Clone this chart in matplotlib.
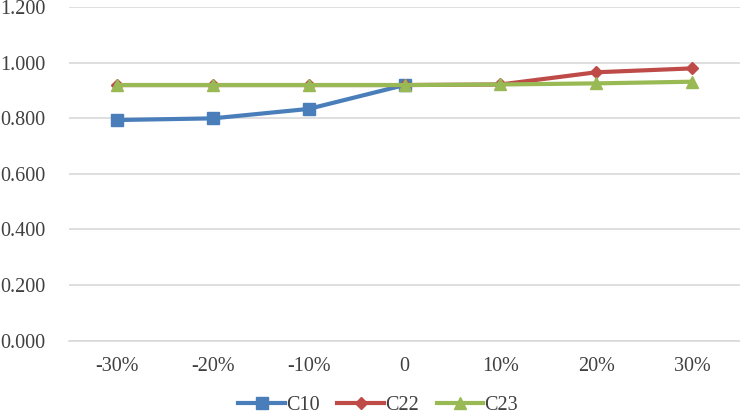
import numpy as np
import matplotlib.pyplot as plt
from matplotlib.ticker import FormatStrFormatter

# dados
categorias = ['-30%', '-20%', '-10%', '0', '10%', '20%', '30%']
c10 = [0.794, 0.800, 0.834, 0.920, np.nan, np.nan, np.nan]
c22 = [0.920, 0.920, 0.920, 0.920, 0.922, 0.966, 0.980]
c23 = [0.920, 0.920, 0.920, 0.920, 0.922, 0.926, 0.932]

plt.rcParams['font.family'] = ['Liberation Serif', 'DejaVu Serif']

fig = plt.figure(figsize=(7.4, 4.15), dpi=100)
ax = fig.add_axes([69 / 740, 1 - 340.5 / 415, (740 - 69) / 740, (340.5 - 7.3) / 415])

x = list(range(len(categorias)))
ax.plot(x, c10, color='#4A7EBB', lw=3, marker='s', ms=8.5, label='C10', zorder=3)
ax.plot(x, c22, color='#BE4B48', lw=3, marker='D', ms=6.5, label='C22', zorder=4)
ax.plot(x, c23, color='#98B954', lw=3, marker='^', ms=8.5, label='C23', zorder=5)

ax.set_xlim(-0.5, len(categorias) - 0.5)
ax.set_ylim(0, 1.2)
ax.set_yticks([0, 0.2, 0.4, 0.6, 0.8, 1.0, 1.2])
ax.yaxis.set_major_formatter(FormatStrFormatter('%.3f'))
ax.set_xticks(x)
ax.set_xticklabels(categorias)

ax.grid(axis='y', color='#D9D9D9', lw=1.2)
ax.set_axisbelow(True)
for s in ['top', 'right', 'left']:
    ax.spines[s].set_visible(False)
ax.spines['bottom'].set_color('#D9D9D9')
ax.spines['bottom'].set_linewidth(1.2)
ax.tick_params(axis='both', length=0, labelsize=14.5, colors='#404040')
ax.tick_params(axis='y', pad=17)
ax.tick_params(axis='x', pad=12)

fig.legend(loc='center', bbox_to_anchor=(378 / 740, 1 - 405 / 415), ncol=3,
           frameon=False, fontsize=14.5, handlelength=2.3, columnspacing=0.9,
           handletextpad=0.05, labelcolor='#404040', borderpad=0)

plt.savefig('out.png', dpi=100)
